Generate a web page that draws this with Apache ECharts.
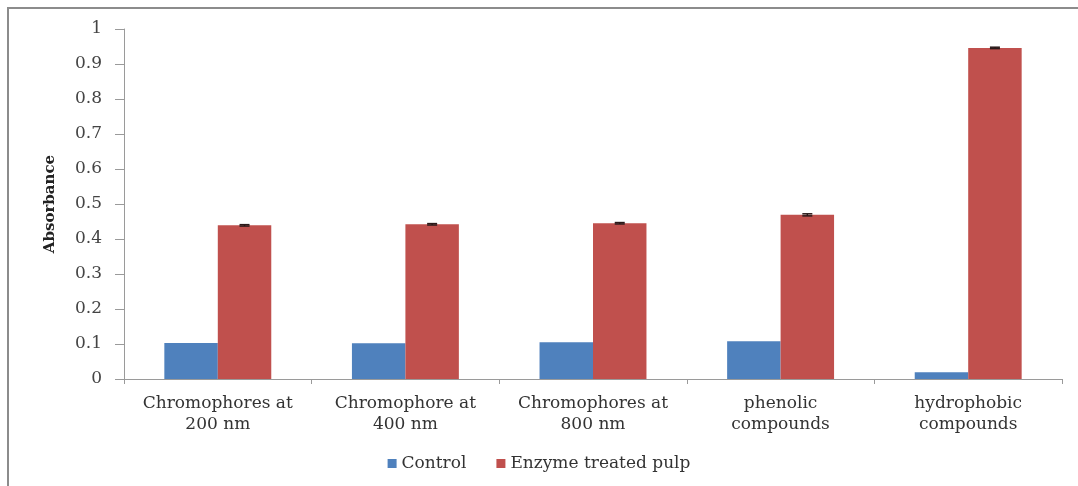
<!DOCTYPE html>
<html>
<head>
<meta charset="utf-8">
<script src="https://cdn.jsdelivr.net/npm/echarts@6/dist/echarts.min.js"></script>
<style>
  html, body { margin: 0; padding: 0; background: #fff; }
  #frame { position: absolute; left: 7px; top: 7px; width: 1100px; height: 500px; border-left: 2px solid #8c8c8c; border-top: 2px solid #8c8c8c; }
  #chart { position: absolute; left: 0; top: 0; width: 1078px; height: 486px; }
</style>
</head>
<body>
<div id="frame"></div>
<div id="chart"></div>
<script>
const categories = ['Chromophores at\n200 nm', 'Chromophore at\n400 nm', 'Chromophores at\n800 nm', 'phenolic\ncompounds', 'hydrophobic\ncompounds'];
const controlValues = [0.103, 0.102, 0.105, 0.108, 0.019];
const enzymeValues = [0.439, 0.442, 0.445, 0.469, 0.946];
const enzymeErrors = [0.002, 0.002, 0.002, 0.003, 0.002];
const yTicks = [0, 0.1, 0.2, 0.3, 0.4, 0.5, 0.6, 0.7, 0.8, 0.9, 1];

const chart = echarts.init(document.getElementById('chart'), null, { renderer: 'canvas' });
const serif = '"DejaVu Serif", serif';

const errData = enzymeValues.map((v, i) => [i, v - enzymeErrors[i], v + enzymeErrors[i]]);

chart.setOption({
  animation: false,
  backgroundColor: 'transparent',
  grid: { left: 124, right: 16, top: 29, bottom: 107, containLabel: false },
  legend: {
    bottom: 9,
    left: 'center',
    itemWidth: 9,
    itemHeight: 9,
    itemGap: 30,
    icon: 'rect',
    textStyle: { fontFamily: serif, fontSize: 17, color: '#333' },
    data: ['Control', 'Enzyme treated pulp']
  },
  xAxis: {
    type: 'category',
    data: categories,
    axisLine: { lineStyle: { color: '#9a9a9a', width: 1 } },
    axisTick: { show: true, alignWithLabel: false, length: 5, lineStyle: { color: '#9a9a9a' } },
    axisLabel: { fontFamily: serif, fontSize: 17, color: '#333', margin: 14, lineHeight: 21, interval: 0 }
  },
  yAxis: {
    type: 'value',
    min: 0, max: 1, interval: 0.1,
    name: 'Absorbance',
    nameLocation: 'middle',
    nameGap: 66,
    nameTextStyle: { fontFamily: serif, fontSize: 15, fontWeight: 'bold', color: '#222' },
    axisLine: { show: true, lineStyle: { color: '#9a9a9a', width: 1 } },
    axisTick: { show: true, length: 9, lineStyle: { color: '#9a9a9a' } },
    splitLine: { show: false },
    axisLabel: {
      fontFamily: serif, fontSize: 17, color: '#444', margin: 22,
      formatter: v => {
        const t = yTicks.find(x => Math.abs(x - v) < 1e-9);
        return t === undefined ? '' : String(t);
      }
    }
  },
  series: [
    {
      name: 'Control', type: 'bar', data: controlValues,
      itemStyle: { color: '#4F81BD' },
      barGap: '0%', barCategoryGap: '43%'
    },
    {
      name: 'Enzyme treated pulp', type: 'bar', data: enzymeValues,
      itemStyle: { color: '#C0504D' },
      barGap: '0%', barCategoryGap: '43%'
    },
    {
      name: 'err', type: 'custom', data: errData, z: 10,
      renderItem: function (params, api) {
        const i = api.value(0);
        const lo = api.coord([i, api.value(1)]);
        const hi = api.coord([i, api.value(2)]);
        const bw = api.size([1, 0])[0] * 0.57 / 2;
        const x = lo[0] + bw / 2;
        const half = 5;
        const style = { stroke: '#2a1a1a', lineWidth: 1.5 };
        return {
          type: 'group',
          children: [
            { type: 'line', shape: { x1: x, y1: lo[1], x2: x, y2: hi[1] }, style },
            { type: 'line', shape: { x1: x - half, y1: hi[1], x2: x + half, y2: hi[1] }, style },
            { type: 'line', shape: { x1: x - half, y1: lo[1], x2: x + half, y2: lo[1] }, style }
          ]
        };
      },
      encode: { x: 0, y: [1, 2] },
      silent: true
    }
  ]
});
</script>
</body>
</html>
